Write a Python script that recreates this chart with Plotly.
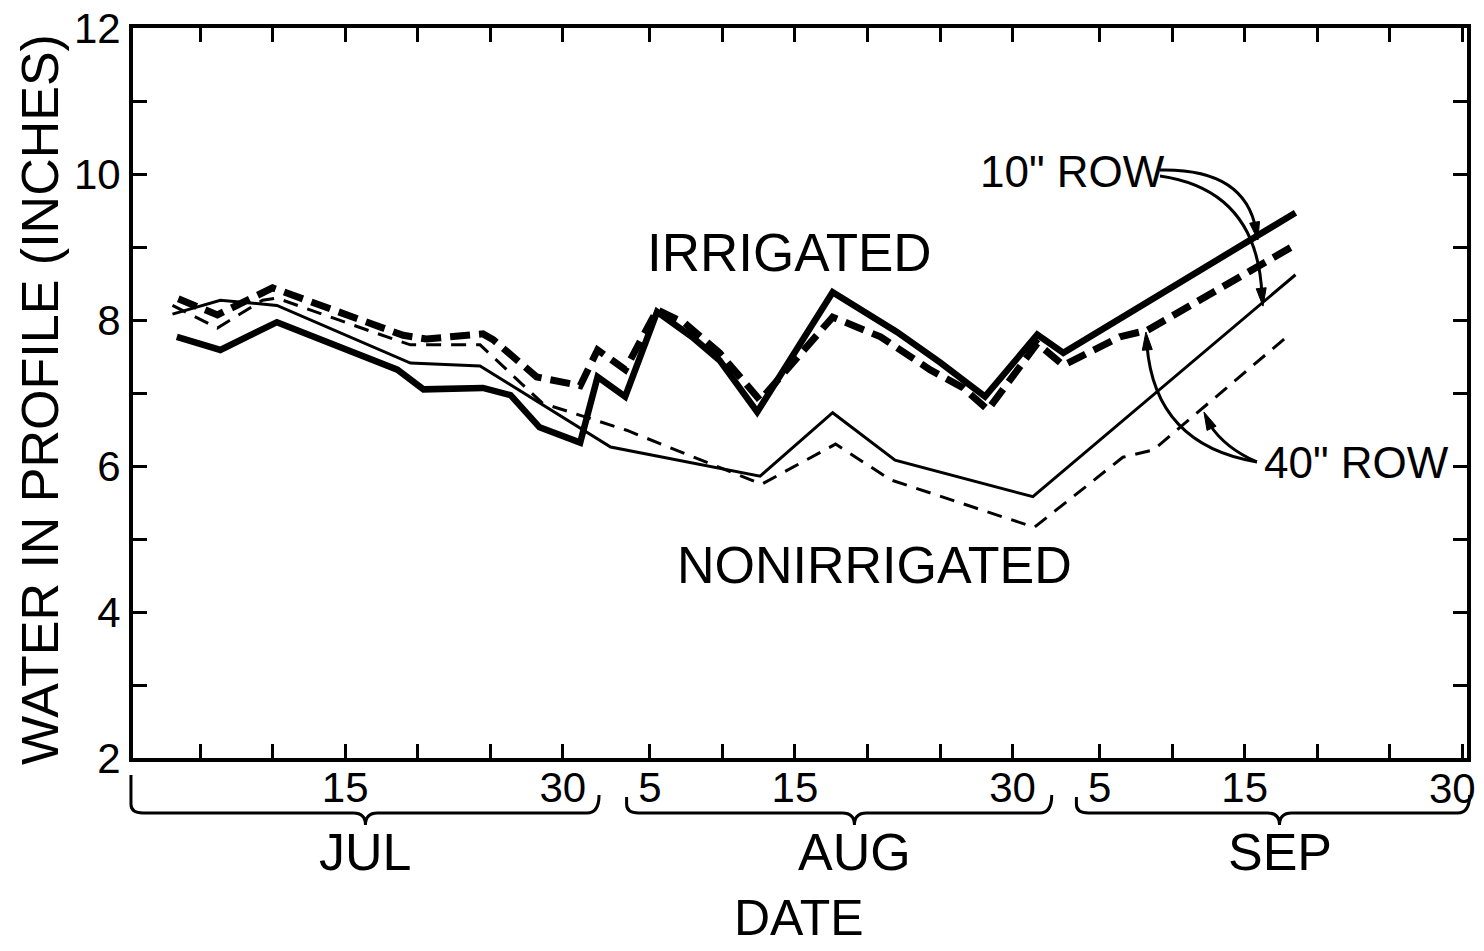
import plotly.graph_objects as go

# x values are day numbers: Jul d -> d, Aug d -> 31 + d, Sep d -> 62 + d
irr10_day = [3.4, 6.4, 10.3, 18.6, 20.4, 24.5, 26.4, 28.4, 31.2, 32.4, 34.3, 36.5, 38.9, 40.8, 43.4, 48.6, 53.0, 56.0, 59.1, 62.7, 64.5, 80.5]
irr10_val = [7.77, 7.59, 7.97, 7.32, 7.05, 7.07, 6.97, 6.53, 6.32, 7.22, 6.95, 8.11, 7.77, 7.45, 6.74, 8.38, 7.84, 7.42, 6.95, 7.80, 7.55, 9.47]

irr40_day = [3.5, 6.2, 10.0, 16.7, 19.0, 20.6, 24.5, 25.2, 28.2, 31.2, 32.4, 34.3, 36.5, 38.4, 40.8, 43.6, 48.6, 51.9, 55.3, 57.6, 59.3, 62.7, 64.5, 68.4, 70.3, 80.5]
irr40_val = [8.29, 8.07, 8.44, 7.97, 7.79, 7.74, 7.81, 7.73, 7.22, 7.10, 7.59, 7.32, 8.14, 7.96, 7.55, 6.90, 8.04, 7.77, 7.32, 7.07, 6.77, 7.68, 7.38, 7.77, 7.86, 9.03]

non10_day = [3.1, 6.4, 10.3, 19.5, 24.3, 33.3, 43.6, 48.6, 52.9, 62.4, 80.5]
non10_val = [8.08, 8.27, 8.20, 7.41, 7.37, 6.26, 5.86, 6.73, 6.08, 5.58, 8.62]

non40_day = [3.1, 6.2, 9.3, 10.3, 16.7, 19.5, 24.3, 28.6, 34.4, 39.9, 43.7, 48.8, 52.6, 62.5, 68.6, 70.7, 80.2]
non40_val = [8.20, 7.89, 8.27, 8.30, 7.85, 7.66, 7.66, 6.86, 6.49, 6.05, 5.75, 6.30, 5.81, 5.16, 6.12, 6.22, 7.82]

tick_days = [5, 10, 15, 20, 25, 30, 36, 41, 46, 51, 56, 61, 67, 72, 77, 82, 87, 92]
tick_text = ["", "", "15", "", "", "30", "5", "", "15", "", "", "30", "5", "", "15", "", "", ""]
last_tick_label = "30"   # Sep 30, drawn as a separate text so it stays inside the page
y_ticks = list(range(2, 13))
y_text = [str(v) if v % 2 == 0 else "" for v in y_ticks]

months = ["JUL", "AUG", "SEP"]
month_center = [16.4, 50.1, 79.4]
month_span = [(0.24, 32.5), (34.4, 63.7), (65.4, 92.5)]

FONT = "Liberation Sans"
W, H = 1484, 951
L, R, T, B = 133, 17, 28, 193
X0, X1 = 0.38, 92.32
Y0, Y1 = 2.0, 12.0
pw, ph = W - L - R, H - T - B


def d2p(d, v):
    return (L + (d - X0) / (X1 - X0) * pw, T + (Y1 - v) / (Y1 - Y0) * ph)


def p2d(px, py):
    return (X0 + (px - L) / pw * (X1 - X0), Y1 - (py - T) / ph * (Y1 - Y0))


def px2paper(px, py):
    return ((px - L) / pw, (T + ph - py) / ph)


fig = go.Figure()
fig.add_trace(go.Scatter(x=non10_day, y=non10_val, mode="lines",
                         line=dict(color="black", width=3), name='Nonirrigated 10"'))
fig.add_trace(go.Scatter(x=non40_day, y=non40_val, mode="lines",
                         line=dict(color="black", width=3, dash="15px,10px"), name='Nonirrigated 40"'))
fig.add_trace(go.Scatter(x=irr40_day, y=irr40_val, mode="lines",
                         line=dict(color="black", width=7, dash="20px,9px"), name='Irrigated 40"'))
fig.add_trace(go.Scatter(x=irr10_day, y=irr10_val, mode="lines",
                         line=dict(color="black", width=6.5), name='Irrigated 10"'))

shapes = []
# braces under the month labels
for (a, b), c in zip(month_span, month_center):
    xa, _ = px2paper(d2p(a, 2)[0], 0)
    xb, _ = px2paper(d2p(b, 2)[0], 0)
    xc, _ = px2paper(d2p(c, 2)[0], 0)
    ytop = px2paper(0, 775 if a < 1 else 797)[1]
    ytop_r = px2paper(0, 795)[1]
    yh = px2paper(0, 813)[1]
    yt = px2paper(0, 825)[1]
    r = 12 / pw
    path = (f"M {xa},{ytop} L {xa},{yh + 0.012} Q {xa},{yh} {xa + r},{yh} "
            f"L {xc - r},{yh} Q {xc},{yh} {xc},{yt} Q {xc},{yh} {xc + r},{yh} "
            f"L {xb - r},{yh} Q {xb},{yh} {xb},{ytop_r}")
    shapes.append(dict(type="path", xref="paper", yref="paper", path=path,
                       line=dict(color="black", width=3)))

# curved pointer arrows (data coords)
arrows = [
    [(71.16, 10.055), (77.02, 10.08), (77.78, 9.233), (77.91, 9.096)],
    [(71.16, 9.973), (77.91, 9.781), (78.19, 8.329), (78.26, 8.19)],
    [(77.84, 6.055), (70.81, 6.288), (70.26, 7.658), (70.19, 7.836)],
    [(77.84, 6.055), (75.64, 6.247), (74.61, 6.562), (74.19, 6.74)],
]
for p0, p1, p2, tip in arrows:
    shapes.append(dict(type="path", xref="x", yref="y",
                       path=f"M {p0[0]},{p0[1]} Q {p1[0]},{p1[1]} {p2[0]},{p2[1]}",
                       line=dict(color="black", width=3)))
    tx, ty = d2p(*tip)
    bx, by = d2p(*p2)
    dx, dy = tx - bx, ty - by
    n = (dx * dx + dy * dy) ** 0.5
    ux, uy = dx / n, dy / n
    cx, cy = tx - ux * 18, ty - uy * 18
    a1 = p2d(cx - uy * 5, cy + ux * 5)
    a2 = p2d(cx + uy * 5, cy - ux * 5)
    shapes.append(dict(type="path", xref="x", yref="y",
                       path=f"M {tip[0]},{tip[1]} L {a1[0]},{a1[1]} L {a2[0]},{a2[1]} Z",
                       fillcolor="black", line=dict(color="black", width=1)))

annotations = []
annotations.append(dict(x=px2paper(1452, 0)[0], y=px2paper(0, 788)[1], xref="paper", yref="paper",
                        text=last_tick_label, showarrow=False,
                        font=dict(family=FONT, size=42, color="black"),
                        xanchor="center", yanchor="middle"))
for m, c in zip(months, month_center):
    annotations.append(dict(x=c, y=px2paper(0, 852)[1], xref="x", yref="paper", text=m,
                            showarrow=False, font=dict(family=FONT, size=52, color="black"),
                            xanchor="center", yanchor="middle"))
annotations.append(dict(x=46.3, y=px2paper(0, 918)[1], xref="x", yref="paper", text="DATE",
                        showarrow=False, font=dict(family=FONT, size=50, color="black"),
                        xanchor="center", yanchor="middle"))
annotations.append(dict(x=px2paper(40, 0)[0], y=px2paper(0, 400)[1], xref="paper", yref="paper",
                        text="WATER IN PROFILE (INCHES)", textangle=-90, showarrow=False,
                        font=dict(family=FONT, size=52, color="black"),
                        xanchor="center", yanchor="middle"))
labels = [("IRRIGATED", 45.6, 8.93, 53), ("NONIRRIGATED", 51.5, 4.64, 52),
          ('10" ROW', 65.1, 10.03, 44), ('40" ROW', 84.7, 6.05, 44)]
for txt, x, y, size in labels:
    annotations.append(dict(x=x, y=y, xref="x", yref="y", text=txt, showarrow=False,
                            font=dict(family=FONT, size=size, color="black"),
                            xanchor="center", yanchor="middle"))

fig.update_layout(
    width=W, height=H, margin=dict(l=L, r=R, t=T, b=B, autoexpand=False),
    plot_bgcolor="white", paper_bgcolor="white", showlegend=False,
    shapes=shapes, annotations=annotations,
    font=dict(family=FONT, color="black"),
    xaxis=dict(range=[X0, X1], tickmode="array", tickvals=tick_days, ticktext=tick_text,
               ticks="inside", ticklen=14, tickwidth=3, tickcolor="black",
               showline=True, linewidth=4, linecolor="black", mirror="ticks",
               showgrid=False, zeroline=False, ticklabeloverflow="allow",
               ticklabelstandoff=-10, automargin=False,
               tickfont=dict(family=FONT, size=42, color="black")),
    yaxis=dict(range=[Y0, Y1], tickmode="array", tickvals=y_ticks, ticktext=y_text,
               ticks="inside", ticklen=14, tickwidth=3, tickcolor="black",
               showline=True, linewidth=4, linecolor="black", mirror="ticks",
               showgrid=False, zeroline=False, automargin=False,
               tickfont=dict(family=FONT, size=42, color="black")),
)

fig.write_html("out.html")
